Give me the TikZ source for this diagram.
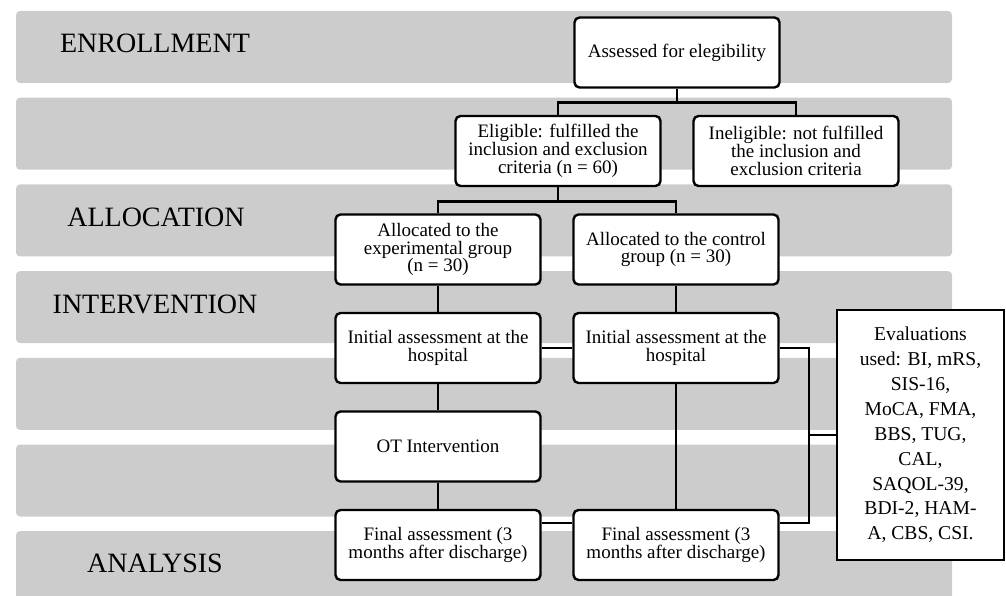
\documentclass[tikz,border=0pt]{standalone}
\usepackage{fontspec}
\setmainfont{Liberation Serif}
\definecolor{band}{HTML}{CCCCCC}

\begin{document}
\begin{tikzpicture}[x=1pt, y=-1pt, node distance={98.5pt}, line width=2.4pt,
    main/.style = {draw, rounded corners=5pt, fill=white, minimum width=205pt, minimum height=70pt, align=center, font=\fontsize{19}{17.8}\selectfont},
    eval/.style = {draw, fill=white, minimum width=167pt, minimum height=250pt, align=center, font=\fontsize{19.6}{24.9}\selectfont},
    stage/.style = {font=\fontsize{28}{30}\selectfont}]
    \useasboundingbox (0,0) rectangle (1006,596);
    \begin{scope}
        \clip (0,0) rectangle (1006,596);
        \foreach \i in {0,...,6}
            \fill[band, rounded corners=4pt] (16,{11+86.7*\i}) rectangle (952,{83+86.7*\i});
    \end{scope}
    \node[stage] (en) at (155,43) {ENROLLMENT};
    \node[stage] (al) at (156,217) {ALLOCATION};
    \node[stage] (in) at (155,304) {INTERVENTION};
    \node[stage] (an) at (155,563) {ANALYSIS};
    \node[main] (1) at (677,52.5) {Assessed for elegibility};
    \node[main] (2) [below of=1, xshift=-119pt] {Eligible: fulfilled the\\inclusion and exclusion\\criteria (n = 60)};
    \node[main] (3) [node distance=238pt, right of=2] {Ineligible: not fulfilled\\the inclusion and\\exclusion criteria};
    \node[main] (4) [below of=2, xshift=-120pt] {Allocated to the\\experimental group\\(n = 30)};
    \node[main] (5) [node distance=238pt, right of=4] {Allocated to the control\\group (n = 30)};
    \node[main] (6) [below of=4] {Initial assessment at the\\hospital};
    \node[main] (7) [below of=5] {Initial assessment at the\\hospital};
    \node[main] (8) [below of=6] {OT Intervention};
    \node[main] (9) [below of=8] {Final assessment (3\\months after discharge)};
    \node[main] (10) [node distance=238pt, right of=9] {Final assessment (3\\months after discharge)};
    \node[eval] (11) at (920.5,435) {Evaluations\\used: BI, mRS,\\SIS-16,\\MoCA, FMA,\\BBS, TUG,\\CAL,\\SAQOL-39,\\BDI-2, HAM-\\A, CBS, CSI.};
    \draw (1.south) -- ++(0,14) coordinate (a);
    \draw (2.north) |- (a) -| (3.north);
    \draw (2.south) -- ++(0,14.5) coordinate (b);
    \draw (4.north) |- (b) -| (5.north);
    \draw (4.south) -- (6.north);
    \draw (5.south) -- (7.north);
    \draw (6.east) -- (7.west);
    \draw (6.south) -- (8.north);
    \draw (8.south) -- (9.north);
    \draw (7.south) -- (10.north);
    \draw ([yshift=-14pt]9.north east) -- ([yshift=-14pt]10.north west);
    \draw (7.east) -- ++(29,0) coordinate (c) |- ([yshift=-14pt]10.north east);
    \draw (11.west) -- (c |- 11.west);
\end{tikzpicture}
\end{document}
